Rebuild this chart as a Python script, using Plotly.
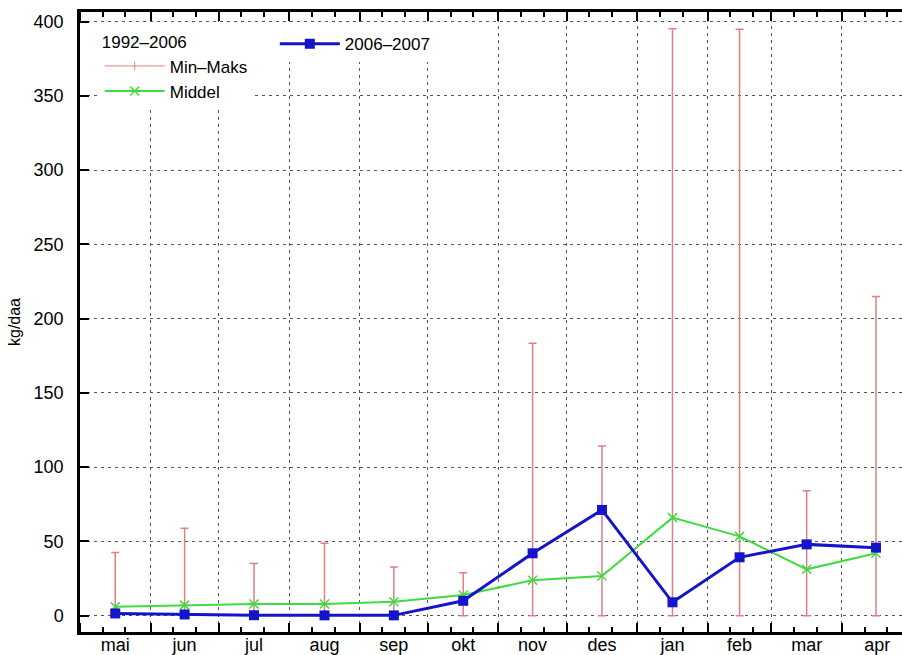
import pandas as pd
import plotly.graph_objects as go

# ---- data ----
months = ["mai", "jun", "jul", "aug", "sep", "okt", "nov", "des", "jan", "feb", "mar", "apr"]
month_starts = ["2006-05-01", "2006-06-01", "2006-07-01", "2006-08-01", "2006-09-01", "2006-10-01",
                "2006-11-01", "2006-12-01", "2007-01-01", "2007-02-01", "2007-03-01", "2007-04-01"]
min_vals = [0, 0, 0, 0, 0, 0, 0, 0, 0, 0, 0, 0]
max_vals = [42.5, 58.8, 35.2, 48.7, 32.7, 28.9, 183.5, 114.3, 395.3, 394.8, 84.2, 214.9]
middel = [6.0, 7.1, 7.9, 7.9, 9.4, 13.9, 23.8, 26.7, 66.0, 53.4, 31.2, 42.0]
season_2006_2007 = [1.5, 0.8, 0.3, 0.2, 0.2, 10.0, 42.0, 71.2, 9.0, 39.3, 48.0, 45.8]
eng_abbr = ["May", "Jun", "Jul", "Aug", "Sep", "Oct", "Nov", "Dec", "Jan", "Feb", "Mar", "Apr"]

# mid-month positions for each month category
starts = [pd.Timestamp(s) for s in month_starts]
ends = [s + pd.offsets.MonthBegin(1) for s in starts]
mids = [s + (e - s) / 2 for s, e in zip(starts, ends)]
x_mid = [m.strftime("%Y-%m-%d %H:%M") for m in mids]

minor_ticks = []
for s in starts:
    minor_ticks.append((s + pd.Timedelta(days=10)).strftime("%Y-%m-%d"))
    minor_ticks.append((s + pd.Timedelta(days=20)).strftime("%Y-%m-%d"))

PINK = "#e07f82"
GREEN = "#3fdc3f"
BLUE = "#1414c8"
GRID = "#555555"
FONT = "Liberation Sans, Arial, Helvetica, sans-serif"

fig = go.Figure()

# Min-Maks error bars
fig.add_trace(go.Scatter(
    x=x_mid, y=min_vals, mode="markers",
    marker=dict(size=1, color="rgba(0,0,0,0)"),
    error_y=dict(type="data", symmetric=False,
                 array=[mx - mn for mx, mn in zip(max_vals, min_vals)],
                 arrayminus=[0] * len(min_vals),
                 color=PINK, thickness=1.5, width=4),
    showlegend=False, hoverinfo="skip",
))
# legend entry for Min-Maks
fig.add_trace(go.Scatter(
    x=[None], y=[None], mode="lines+markers", name="Min–Maks",
    line=dict(color=PINK, width=1),
    marker=dict(symbol="line-ns-open", size=6, line=dict(color=PINK, width=1)),
    legend="legend",
))
# Middel
fig.add_trace(go.Scatter(
    x=x_mid, y=middel, mode="lines+markers", name="Middel",
    line=dict(color=GREEN, width=2),
    marker=dict(symbol="x-thin-open", size=9, line=dict(color=GREEN, width=1.5)),
    legend="legend",
))
# 2006-2007
fig.add_trace(go.Scatter(
    x=x_mid, y=season_2006_2007, mode="lines+markers", name="2006–2007",
    line=dict(color=BLUE, width=3),
    marker=dict(symbol="square", size=10, color=BLUE),
    legend="legend2",
))

fig.update_layout(
    width=902, height=655,
    margin=dict(l=80, r=0, t=12, b=23, autoexpand=False),
    paper_bgcolor="white", plot_bgcolor="white",
    font=dict(family=FONT, size=18, color="black"),
    legend=dict(
        title=dict(text="1992–2006", font=dict(size=17)),
        x=0.024, y=0.977, xanchor="left", yanchor="top",
        bgcolor="white", borderwidth=0, itemwidth=60,
        font=dict(size=17), tracegroupgap=0,
    ),
    legend2=dict(
        x=0.237, y=0.977, xanchor="left", yanchor="top",
        bgcolor="white", borderwidth=0, itemwidth=60,
        font=dict(size=17),
    ),
    xaxis=dict(
        type="date", automargin=False,
        range=["2006-05-01", "2007-04-27 10:00"],
        tick0="2006-05-01", dtick="M1",
        ticklabelmode="period", tickformat="%b",
        labelalias=dict(zip(eng_abbr, months)),
        ticks="inside", ticklen=9, tickwidth=1.5, tickcolor="black",
        showline=True, linecolor="black", linewidth=2.5, mirror="ticks",
        showgrid=True, gridcolor=GRID, griddash="3px,4px", gridwidth=1,
        zeroline=False,
        ticklabelstandoff=-5,
        minor=dict(tickvals=minor_ticks, ticks="inside", ticklen=5,
                   tickwidth=1.5, tickcolor="black", showgrid=False),
        tickfont=dict(size=18),
    ),
    yaxis=dict(
        automargin=False,
        range=[-11, 406.5],
        tick0=0, dtick=50,
        ticks="inside", ticklen=9, tickwidth=1.5, tickcolor="black",
        showline=True, linecolor="black", linewidth=2.5, mirror=False,
        showgrid=True, gridcolor=GRID, griddash="3px,4px", gridwidth=1,
        zeroline=False,
        ticklabelstandoff=10,
        tickfont=dict(size=18),
        title=dict(text="kg/daa", font=dict(size=16), standoff=10),
    ),
)

fig.write_html("out.html")
